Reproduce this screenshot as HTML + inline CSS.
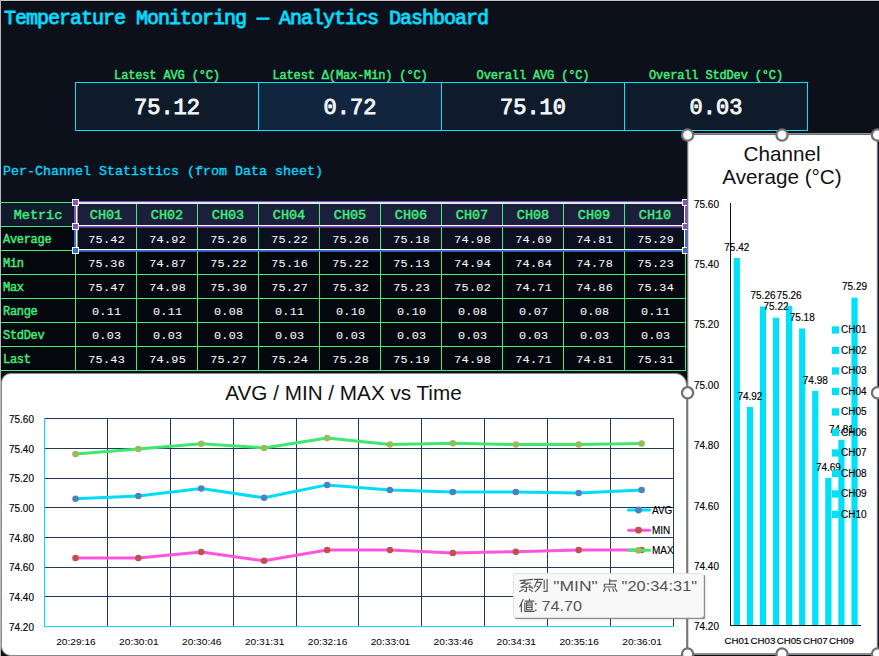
<!DOCTYPE html>
<html><head><meta charset="utf-8"><title>Temperature Monitoring Dashboard</title>
<style>
html,body{margin:0;padding:0;width:879px;height:656px;overflow:hidden;background:#0c101b;}
svg{display:block;}
</style></head><body>
<svg width="879" height="656" viewBox="0 0 879 656">
<defs><filter id="blur" x="-10%" y="-20%" width="120%" height="140%"><feGaussianBlur stdDeviation="1.5"/></filter></defs>
<rect x="0" y="0" width="879" height="656" fill="#0c101b"/>
<rect x="0" y="0" width="879" height="1" fill="#c4c4c4"/>
<rect x="0" y="1" width="879" height="1" fill="#03050b"/>
<rect x="0" y="0" width="1" height="656" fill="#b8b8b8"/>
<text x="4" y="24" font-family='"Liberation Mono", monospace' font-size="20" letter-spacing="-1" fill="#00dcff" stroke="#00dcff" stroke-width="0.85">Temperature Monitoring — Analytics Dashboard</text>
<rect x="75" y="82" width="183" height="48" fill="#0f1b2a"/>
<text x="167.0" y="79" text-anchor="middle" font-family='"Liberation Mono", monospace' font-size="12" letter-spacing="-0.15" fill="#40ec7c" stroke="#40ec7c" stroke-width="0.45">Latest AVG (°C)</text>
<text x="167.0" y="114" text-anchor="middle" font-family='"Liberation Mono", monospace' font-size="22" fill="#f4f6f8" stroke="#f4f6f8" stroke-width="0.9">75.12</text>
<rect x="258" y="82" width="183" height="48" fill="#11263e"/>
<text x="350.0" y="79" text-anchor="middle" font-family='"Liberation Mono", monospace' font-size="12" letter-spacing="-0.15" fill="#40ec7c" stroke="#40ec7c" stroke-width="0.45">Latest Δ(Max-Min) (°C)</text>
<text x="350.0" y="114" text-anchor="middle" font-family='"Liberation Mono", monospace' font-size="22" fill="#f4f6f8" stroke="#f4f6f8" stroke-width="0.9">0.72</text>
<rect x="441" y="82" width="183" height="48" fill="#0f1b2a"/>
<text x="533.0" y="79" text-anchor="middle" font-family='"Liberation Mono", monospace' font-size="12" letter-spacing="-0.15" fill="#40ec7c" stroke="#40ec7c" stroke-width="0.45">Overall AVG (°C)</text>
<text x="533.0" y="114" text-anchor="middle" font-family='"Liberation Mono", monospace' font-size="22" fill="#f4f6f8" stroke="#f4f6f8" stroke-width="0.9">75.10</text>
<rect x="624" y="82" width="183" height="48" fill="#0f1b2a"/>
<text x="716.0" y="79" text-anchor="middle" font-family='"Liberation Mono", monospace' font-size="12" letter-spacing="-0.15" fill="#40ec7c" stroke="#40ec7c" stroke-width="0.45">Overall StdDev (°C)</text>
<text x="716.0" y="114" text-anchor="middle" font-family='"Liberation Mono", monospace' font-size="22" fill="#f4f6f8" stroke="#f4f6f8" stroke-width="0.9">0.03</text>
<rect x="75.5" y="82.5" width="732" height="48" fill="none" stroke="#00e2ff" stroke-width="1"/>
<line x1="258.5" y1="82" x2="258.5" y2="131" stroke="#00e2ff" stroke-width="1"/>
<line x1="441.5" y1="82" x2="441.5" y2="131" stroke="#00e2ff" stroke-width="1"/>
<line x1="624.5" y1="82" x2="624.5" y2="131" stroke="#00e2ff" stroke-width="1"/>
<text x="3" y="175" font-family='"Liberation Mono", monospace' font-size="13.33" fill="#00dcff" stroke="#00dcff" stroke-width="0.3">Per-Channel Statistics (from Data sheet)</text>
<rect x="1" y="202" width="74" height="24" fill="#101a2c"/>
<rect x="75" y="202" width="610" height="24" fill="#1c1f3c"/>
<rect x="1" y="226" width="684" height="144" fill="#05070e"/>
<rect x="75" y="226" width="610" height="24" fill="#0d1021"/>
<line x1="1" y1="202.5" x2="686" y2="202.5" stroke="#40ec7c" stroke-width="1"/>
<line x1="1" y1="226.5" x2="686" y2="226.5" stroke="#40ec7c" stroke-width="1"/>
<line x1="1" y1="250.5" x2="686" y2="250.5" stroke="#40ec7c" stroke-width="1"/>
<line x1="1" y1="274.5" x2="686" y2="274.5" stroke="#40ec7c" stroke-width="1"/>
<line x1="1" y1="298.5" x2="686" y2="298.5" stroke="#40ec7c" stroke-width="1"/>
<line x1="1" y1="322.5" x2="686" y2="322.5" stroke="#40ec7c" stroke-width="1"/>
<line x1="1" y1="346.5" x2="686" y2="346.5" stroke="#40ec7c" stroke-width="1"/>
<line x1="1" y1="370.5" x2="686" y2="370.5" stroke="#40ec7c" stroke-width="1"/>
<line x1="75.5" y1="202" x2="75.5" y2="371" stroke="#40ec7c" stroke-width="1"/>
<line x1="136.5" y1="202" x2="136.5" y2="371" stroke="#40ec7c" stroke-width="1"/>
<line x1="197.5" y1="202" x2="197.5" y2="371" stroke="#40ec7c" stroke-width="1"/>
<line x1="258.5" y1="202" x2="258.5" y2="371" stroke="#40ec7c" stroke-width="1"/>
<line x1="319.5" y1="202" x2="319.5" y2="371" stroke="#40ec7c" stroke-width="1"/>
<line x1="380.5" y1="202" x2="380.5" y2="371" stroke="#40ec7c" stroke-width="1"/>
<line x1="441.5" y1="202" x2="441.5" y2="371" stroke="#40ec7c" stroke-width="1"/>
<line x1="502.5" y1="202" x2="502.5" y2="371" stroke="#40ec7c" stroke-width="1"/>
<line x1="563.5" y1="202" x2="563.5" y2="371" stroke="#40ec7c" stroke-width="1"/>
<line x1="624.5" y1="202" x2="624.5" y2="371" stroke="#40ec7c" stroke-width="1"/>
<line x1="685.5" y1="202" x2="685.5" y2="371" stroke="#40ec7c" stroke-width="1"/>
<text x="38" y="219" text-anchor="middle" font-family='"Liberation Mono", monospace' font-size="13.5" fill="#40ec7c" stroke="#40ec7c" stroke-width="0.45">Metric</text>
<text x="106" y="219" text-anchor="middle" font-family='"Liberation Mono", monospace' font-size="13.5" fill="#40ec7c" stroke="#40ec7c" stroke-width="0.45">CH01</text>
<text x="167" y="219" text-anchor="middle" font-family='"Liberation Mono", monospace' font-size="13.5" fill="#40ec7c" stroke="#40ec7c" stroke-width="0.45">CH02</text>
<text x="228" y="219" text-anchor="middle" font-family='"Liberation Mono", monospace' font-size="13.5" fill="#40ec7c" stroke="#40ec7c" stroke-width="0.45">CH03</text>
<text x="289" y="219" text-anchor="middle" font-family='"Liberation Mono", monospace' font-size="13.5" fill="#40ec7c" stroke="#40ec7c" stroke-width="0.45">CH04</text>
<text x="350" y="219" text-anchor="middle" font-family='"Liberation Mono", monospace' font-size="13.5" fill="#40ec7c" stroke="#40ec7c" stroke-width="0.45">CH05</text>
<text x="411" y="219" text-anchor="middle" font-family='"Liberation Mono", monospace' font-size="13.5" fill="#40ec7c" stroke="#40ec7c" stroke-width="0.45">CH06</text>
<text x="472" y="219" text-anchor="middle" font-family='"Liberation Mono", monospace' font-size="13.5" fill="#40ec7c" stroke="#40ec7c" stroke-width="0.45">CH07</text>
<text x="533" y="219" text-anchor="middle" font-family='"Liberation Mono", monospace' font-size="13.5" fill="#40ec7c" stroke="#40ec7c" stroke-width="0.45">CH08</text>
<text x="594" y="219" text-anchor="middle" font-family='"Liberation Mono", monospace' font-size="13.5" fill="#40ec7c" stroke="#40ec7c" stroke-width="0.45">CH09</text>
<text x="655" y="219" text-anchor="middle" font-family='"Liberation Mono", monospace' font-size="13.5" fill="#40ec7c" stroke="#40ec7c" stroke-width="0.45">CH10</text>
<text x="3" y="243" font-family='"Liberation Mono", monospace' font-size="12" letter-spacing="-0.3" fill="#40ec7c" stroke="#40ec7c" stroke-width="0.45">Average</text>
<text x="106.7" y="242.6" text-anchor="middle" font-family='"Liberation Mono", monospace' font-size="11.8" letter-spacing="0.3" fill="#f4f6f8" stroke="#f4f6f8" stroke-width="0.08">75.42</text>
<text x="167.7" y="242.6" text-anchor="middle" font-family='"Liberation Mono", monospace' font-size="11.8" letter-spacing="0.3" fill="#f4f6f8" stroke="#f4f6f8" stroke-width="0.08">74.92</text>
<text x="228.7" y="242.6" text-anchor="middle" font-family='"Liberation Mono", monospace' font-size="11.8" letter-spacing="0.3" fill="#f4f6f8" stroke="#f4f6f8" stroke-width="0.08">75.26</text>
<text x="289.7" y="242.6" text-anchor="middle" font-family='"Liberation Mono", monospace' font-size="11.8" letter-spacing="0.3" fill="#f4f6f8" stroke="#f4f6f8" stroke-width="0.08">75.22</text>
<text x="350.7" y="242.6" text-anchor="middle" font-family='"Liberation Mono", monospace' font-size="11.8" letter-spacing="0.3" fill="#f4f6f8" stroke="#f4f6f8" stroke-width="0.08">75.26</text>
<text x="411.7" y="242.6" text-anchor="middle" font-family='"Liberation Mono", monospace' font-size="11.8" letter-spacing="0.3" fill="#f4f6f8" stroke="#f4f6f8" stroke-width="0.08">75.18</text>
<text x="472.7" y="242.6" text-anchor="middle" font-family='"Liberation Mono", monospace' font-size="11.8" letter-spacing="0.3" fill="#f4f6f8" stroke="#f4f6f8" stroke-width="0.08">74.98</text>
<text x="533.7" y="242.6" text-anchor="middle" font-family='"Liberation Mono", monospace' font-size="11.8" letter-spacing="0.3" fill="#f4f6f8" stroke="#f4f6f8" stroke-width="0.08">74.69</text>
<text x="594.7" y="242.6" text-anchor="middle" font-family='"Liberation Mono", monospace' font-size="11.8" letter-spacing="0.3" fill="#f4f6f8" stroke="#f4f6f8" stroke-width="0.08">74.81</text>
<text x="655.7" y="242.6" text-anchor="middle" font-family='"Liberation Mono", monospace' font-size="11.8" letter-spacing="0.3" fill="#f4f6f8" stroke="#f4f6f8" stroke-width="0.08">75.29</text>
<text x="3" y="267" font-family='"Liberation Mono", monospace' font-size="12" letter-spacing="-0.3" fill="#40ec7c" stroke="#40ec7c" stroke-width="0.45">Min</text>
<text x="106.7" y="266.6" text-anchor="middle" font-family='"Liberation Mono", monospace' font-size="11.8" letter-spacing="0.3" fill="#f4f6f8" stroke="#f4f6f8" stroke-width="0.08">75.36</text>
<text x="167.7" y="266.6" text-anchor="middle" font-family='"Liberation Mono", monospace' font-size="11.8" letter-spacing="0.3" fill="#f4f6f8" stroke="#f4f6f8" stroke-width="0.08">74.87</text>
<text x="228.7" y="266.6" text-anchor="middle" font-family='"Liberation Mono", monospace' font-size="11.8" letter-spacing="0.3" fill="#f4f6f8" stroke="#f4f6f8" stroke-width="0.08">75.22</text>
<text x="289.7" y="266.6" text-anchor="middle" font-family='"Liberation Mono", monospace' font-size="11.8" letter-spacing="0.3" fill="#f4f6f8" stroke="#f4f6f8" stroke-width="0.08">75.16</text>
<text x="350.7" y="266.6" text-anchor="middle" font-family='"Liberation Mono", monospace' font-size="11.8" letter-spacing="0.3" fill="#f4f6f8" stroke="#f4f6f8" stroke-width="0.08">75.22</text>
<text x="411.7" y="266.6" text-anchor="middle" font-family='"Liberation Mono", monospace' font-size="11.8" letter-spacing="0.3" fill="#f4f6f8" stroke="#f4f6f8" stroke-width="0.08">75.13</text>
<text x="472.7" y="266.6" text-anchor="middle" font-family='"Liberation Mono", monospace' font-size="11.8" letter-spacing="0.3" fill="#f4f6f8" stroke="#f4f6f8" stroke-width="0.08">74.94</text>
<text x="533.7" y="266.6" text-anchor="middle" font-family='"Liberation Mono", monospace' font-size="11.8" letter-spacing="0.3" fill="#f4f6f8" stroke="#f4f6f8" stroke-width="0.08">74.64</text>
<text x="594.7" y="266.6" text-anchor="middle" font-family='"Liberation Mono", monospace' font-size="11.8" letter-spacing="0.3" fill="#f4f6f8" stroke="#f4f6f8" stroke-width="0.08">74.78</text>
<text x="655.7" y="266.6" text-anchor="middle" font-family='"Liberation Mono", monospace' font-size="11.8" letter-spacing="0.3" fill="#f4f6f8" stroke="#f4f6f8" stroke-width="0.08">75.23</text>
<text x="3" y="291" font-family='"Liberation Mono", monospace' font-size="12" letter-spacing="-0.3" fill="#40ec7c" stroke="#40ec7c" stroke-width="0.45">Max</text>
<text x="106.7" y="290.6" text-anchor="middle" font-family='"Liberation Mono", monospace' font-size="11.8" letter-spacing="0.3" fill="#f4f6f8" stroke="#f4f6f8" stroke-width="0.08">75.47</text>
<text x="167.7" y="290.6" text-anchor="middle" font-family='"Liberation Mono", monospace' font-size="11.8" letter-spacing="0.3" fill="#f4f6f8" stroke="#f4f6f8" stroke-width="0.08">74.98</text>
<text x="228.7" y="290.6" text-anchor="middle" font-family='"Liberation Mono", monospace' font-size="11.8" letter-spacing="0.3" fill="#f4f6f8" stroke="#f4f6f8" stroke-width="0.08">75.30</text>
<text x="289.7" y="290.6" text-anchor="middle" font-family='"Liberation Mono", monospace' font-size="11.8" letter-spacing="0.3" fill="#f4f6f8" stroke="#f4f6f8" stroke-width="0.08">75.27</text>
<text x="350.7" y="290.6" text-anchor="middle" font-family='"Liberation Mono", monospace' font-size="11.8" letter-spacing="0.3" fill="#f4f6f8" stroke="#f4f6f8" stroke-width="0.08">75.32</text>
<text x="411.7" y="290.6" text-anchor="middle" font-family='"Liberation Mono", monospace' font-size="11.8" letter-spacing="0.3" fill="#f4f6f8" stroke="#f4f6f8" stroke-width="0.08">75.23</text>
<text x="472.7" y="290.6" text-anchor="middle" font-family='"Liberation Mono", monospace' font-size="11.8" letter-spacing="0.3" fill="#f4f6f8" stroke="#f4f6f8" stroke-width="0.08">75.02</text>
<text x="533.7" y="290.6" text-anchor="middle" font-family='"Liberation Mono", monospace' font-size="11.8" letter-spacing="0.3" fill="#f4f6f8" stroke="#f4f6f8" stroke-width="0.08">74.71</text>
<text x="594.7" y="290.6" text-anchor="middle" font-family='"Liberation Mono", monospace' font-size="11.8" letter-spacing="0.3" fill="#f4f6f8" stroke="#f4f6f8" stroke-width="0.08">74.86</text>
<text x="655.7" y="290.6" text-anchor="middle" font-family='"Liberation Mono", monospace' font-size="11.8" letter-spacing="0.3" fill="#f4f6f8" stroke="#f4f6f8" stroke-width="0.08">75.34</text>
<text x="3" y="315" font-family='"Liberation Mono", monospace' font-size="12" letter-spacing="-0.3" fill="#40ec7c" stroke="#40ec7c" stroke-width="0.45">Range</text>
<text x="106.7" y="314.6" text-anchor="middle" font-family='"Liberation Mono", monospace' font-size="11.8" letter-spacing="0.3" fill="#f4f6f8" stroke="#f4f6f8" stroke-width="0.08">0.11</text>
<text x="167.7" y="314.6" text-anchor="middle" font-family='"Liberation Mono", monospace' font-size="11.8" letter-spacing="0.3" fill="#f4f6f8" stroke="#f4f6f8" stroke-width="0.08">0.11</text>
<text x="228.7" y="314.6" text-anchor="middle" font-family='"Liberation Mono", monospace' font-size="11.8" letter-spacing="0.3" fill="#f4f6f8" stroke="#f4f6f8" stroke-width="0.08">0.08</text>
<text x="289.7" y="314.6" text-anchor="middle" font-family='"Liberation Mono", monospace' font-size="11.8" letter-spacing="0.3" fill="#f4f6f8" stroke="#f4f6f8" stroke-width="0.08">0.11</text>
<text x="350.7" y="314.6" text-anchor="middle" font-family='"Liberation Mono", monospace' font-size="11.8" letter-spacing="0.3" fill="#f4f6f8" stroke="#f4f6f8" stroke-width="0.08">0.10</text>
<text x="411.7" y="314.6" text-anchor="middle" font-family='"Liberation Mono", monospace' font-size="11.8" letter-spacing="0.3" fill="#f4f6f8" stroke="#f4f6f8" stroke-width="0.08">0.10</text>
<text x="472.7" y="314.6" text-anchor="middle" font-family='"Liberation Mono", monospace' font-size="11.8" letter-spacing="0.3" fill="#f4f6f8" stroke="#f4f6f8" stroke-width="0.08">0.08</text>
<text x="533.7" y="314.6" text-anchor="middle" font-family='"Liberation Mono", monospace' font-size="11.8" letter-spacing="0.3" fill="#f4f6f8" stroke="#f4f6f8" stroke-width="0.08">0.07</text>
<text x="594.7" y="314.6" text-anchor="middle" font-family='"Liberation Mono", monospace' font-size="11.8" letter-spacing="0.3" fill="#f4f6f8" stroke="#f4f6f8" stroke-width="0.08">0.08</text>
<text x="655.7" y="314.6" text-anchor="middle" font-family='"Liberation Mono", monospace' font-size="11.8" letter-spacing="0.3" fill="#f4f6f8" stroke="#f4f6f8" stroke-width="0.08">0.11</text>
<text x="3" y="339" font-family='"Liberation Mono", monospace' font-size="12" letter-spacing="-0.3" fill="#40ec7c" stroke="#40ec7c" stroke-width="0.45">StdDev</text>
<text x="106.7" y="338.6" text-anchor="middle" font-family='"Liberation Mono", monospace' font-size="11.8" letter-spacing="0.3" fill="#f4f6f8" stroke="#f4f6f8" stroke-width="0.08">0.03</text>
<text x="167.7" y="338.6" text-anchor="middle" font-family='"Liberation Mono", monospace' font-size="11.8" letter-spacing="0.3" fill="#f4f6f8" stroke="#f4f6f8" stroke-width="0.08">0.03</text>
<text x="228.7" y="338.6" text-anchor="middle" font-family='"Liberation Mono", monospace' font-size="11.8" letter-spacing="0.3" fill="#f4f6f8" stroke="#f4f6f8" stroke-width="0.08">0.03</text>
<text x="289.7" y="338.6" text-anchor="middle" font-family='"Liberation Mono", monospace' font-size="11.8" letter-spacing="0.3" fill="#f4f6f8" stroke="#f4f6f8" stroke-width="0.08">0.03</text>
<text x="350.7" y="338.6" text-anchor="middle" font-family='"Liberation Mono", monospace' font-size="11.8" letter-spacing="0.3" fill="#f4f6f8" stroke="#f4f6f8" stroke-width="0.08">0.03</text>
<text x="411.7" y="338.6" text-anchor="middle" font-family='"Liberation Mono", monospace' font-size="11.8" letter-spacing="0.3" fill="#f4f6f8" stroke="#f4f6f8" stroke-width="0.08">0.03</text>
<text x="472.7" y="338.6" text-anchor="middle" font-family='"Liberation Mono", monospace' font-size="11.8" letter-spacing="0.3" fill="#f4f6f8" stroke="#f4f6f8" stroke-width="0.08">0.03</text>
<text x="533.7" y="338.6" text-anchor="middle" font-family='"Liberation Mono", monospace' font-size="11.8" letter-spacing="0.3" fill="#f4f6f8" stroke="#f4f6f8" stroke-width="0.08">0.03</text>
<text x="594.7" y="338.6" text-anchor="middle" font-family='"Liberation Mono", monospace' font-size="11.8" letter-spacing="0.3" fill="#f4f6f8" stroke="#f4f6f8" stroke-width="0.08">0.03</text>
<text x="655.7" y="338.6" text-anchor="middle" font-family='"Liberation Mono", monospace' font-size="11.8" letter-spacing="0.3" fill="#f4f6f8" stroke="#f4f6f8" stroke-width="0.08">0.03</text>
<text x="3" y="363" font-family='"Liberation Mono", monospace' font-size="12" letter-spacing="-0.3" fill="#40ec7c" stroke="#40ec7c" stroke-width="0.45">Last</text>
<text x="106.7" y="362.6" text-anchor="middle" font-family='"Liberation Mono", monospace' font-size="11.8" letter-spacing="0.3" fill="#f4f6f8" stroke="#f4f6f8" stroke-width="0.08">75.43</text>
<text x="167.7" y="362.6" text-anchor="middle" font-family='"Liberation Mono", monospace' font-size="11.8" letter-spacing="0.3" fill="#f4f6f8" stroke="#f4f6f8" stroke-width="0.08">74.95</text>
<text x="228.7" y="362.6" text-anchor="middle" font-family='"Liberation Mono", monospace' font-size="11.8" letter-spacing="0.3" fill="#f4f6f8" stroke="#f4f6f8" stroke-width="0.08">75.27</text>
<text x="289.7" y="362.6" text-anchor="middle" font-family='"Liberation Mono", monospace' font-size="11.8" letter-spacing="0.3" fill="#f4f6f8" stroke="#f4f6f8" stroke-width="0.08">75.24</text>
<text x="350.7" y="362.6" text-anchor="middle" font-family='"Liberation Mono", monospace' font-size="11.8" letter-spacing="0.3" fill="#f4f6f8" stroke="#f4f6f8" stroke-width="0.08">75.28</text>
<text x="411.7" y="362.6" text-anchor="middle" font-family='"Liberation Mono", monospace' font-size="11.8" letter-spacing="0.3" fill="#f4f6f8" stroke="#f4f6f8" stroke-width="0.08">75.19</text>
<text x="472.7" y="362.6" text-anchor="middle" font-family='"Liberation Mono", monospace' font-size="11.8" letter-spacing="0.3" fill="#f4f6f8" stroke="#f4f6f8" stroke-width="0.08">74.98</text>
<text x="533.7" y="362.6" text-anchor="middle" font-family='"Liberation Mono", monospace' font-size="11.8" letter-spacing="0.3" fill="#f4f6f8" stroke="#f4f6f8" stroke-width="0.08">74.71</text>
<text x="594.7" y="362.6" text-anchor="middle" font-family='"Liberation Mono", monospace' font-size="11.8" letter-spacing="0.3" fill="#f4f6f8" stroke="#f4f6f8" stroke-width="0.08">74.81</text>
<text x="655.7" y="362.6" text-anchor="middle" font-family='"Liberation Mono", monospace' font-size="11.8" letter-spacing="0.3" fill="#f4f6f8" stroke="#f4f6f8" stroke-width="0.08">75.31</text>
<rect x="74" y="201" width="612" height="1.3" fill="#8652c0"/>
<rect x="76" y="202.3" width="608" height="1.6" fill="#ffffff"/>
<rect x="74" y="201" width="2" height="26" fill="#8652c0"/>
<rect x="76" y="203" width="1.5" height="22" fill="#ffffff"/>
<rect x="76" y="225" width="608" height="1" fill="#ffffff"/>
<rect x="74" y="226" width="612" height="1.6" fill="#8652c0"/>
<rect x="74" y="227" width="2" height="24" fill="#3a6fd0"/>
<rect x="76" y="227" width="1.5" height="22" fill="#ffffff"/>
<rect x="76" y="249" width="608" height="1" fill="#ffffff"/>
<rect x="74" y="250" width="612" height="1.8" fill="#3a6fd0"/>
<rect x="684" y="203" width="1" height="22" fill="#ffffff"/>
<rect x="685" y="201" width="2" height="26" fill="#8652c0"/>
<rect x="684" y="227" width="1" height="22" fill="#ffffff"/>
<rect x="685" y="227" width="2" height="24" fill="#3a6fd0"/>
<rect x="72.0" y="199.0" width="7" height="7" fill="#ffffff"/>
<rect x="73.0" y="200.0" width="5" height="5" fill="#8652c0"/>
<rect x="72.0" y="223.0" width="7" height="7" fill="#ffffff"/>
<rect x="73.0" y="224.0" width="5" height="5" fill="#8652c0"/>
<rect x="72.0" y="247.0" width="7" height="7" fill="#ffffff"/>
<rect x="73.0" y="248.0" width="5" height="5" fill="#3a6fd0"/>
<rect x="682.0" y="199.0" width="7" height="7" fill="#ffffff"/>
<rect x="683.0" y="200.0" width="5" height="5" fill="#8652c0"/>
<rect x="682.0" y="223.0" width="7" height="7" fill="#ffffff"/>
<rect x="683.0" y="224.0" width="5" height="5" fill="#8652c0"/>
<rect x="682.0" y="247.0" width="7" height="7" fill="#ffffff"/>
<rect x="683.0" y="248.0" width="5" height="5" fill="#3a6fd0"/>
<path d="M1.5,382.5 A9,9 0 0 1 10.5,373.5 H675.5 A11,11 0 0 1 686.5,384.5 V655.5 H10.5 A9,9 0 0 1 1.5,646.5 Z" fill="#ffffff" stroke="#8a8a8a" stroke-width="1"/>
<text x="343.5" y="399.5" text-anchor="middle" font-family='"Liberation Sans", sans-serif' font-size="20.7" fill="#111">AVG / MIN / MAX vs Time</text>
<line x1="44" y1="418.5" x2="674" y2="418.5" stroke="#1f3a5c" stroke-width="1"/>
<line x1="44" y1="448.5" x2="674" y2="448.5" stroke="#1f3a5c" stroke-width="1"/>
<line x1="44" y1="478.5" x2="674" y2="478.5" stroke="#1f3a5c" stroke-width="1"/>
<line x1="44" y1="507.5" x2="674" y2="507.5" stroke="#1f3a5c" stroke-width="1"/>
<line x1="44" y1="537.5" x2="674" y2="537.5" stroke="#1f3a5c" stroke-width="1"/>
<line x1="44" y1="567.5" x2="674" y2="567.5" stroke="#1f3a5c" stroke-width="1"/>
<line x1="44" y1="596.5" x2="674" y2="596.5" stroke="#1f3a5c" stroke-width="1"/>
<line x1="107.5" y1="418.5" x2="107.5" y2="626" stroke="#1f3a5c" stroke-width="1"/>
<line x1="170.5" y1="418.5" x2="170.5" y2="626" stroke="#1f3a5c" stroke-width="1"/>
<line x1="233.5" y1="418.5" x2="233.5" y2="626" stroke="#1f3a5c" stroke-width="1"/>
<line x1="296.5" y1="418.5" x2="296.5" y2="626" stroke="#1f3a5c" stroke-width="1"/>
<line x1="358.5" y1="418.5" x2="358.5" y2="626" stroke="#1f3a5c" stroke-width="1"/>
<line x1="421.5" y1="418.5" x2="421.5" y2="626" stroke="#1f3a5c" stroke-width="1"/>
<line x1="484.5" y1="418.5" x2="484.5" y2="626" stroke="#1f3a5c" stroke-width="1"/>
<line x1="547.5" y1="418.5" x2="547.5" y2="626" stroke="#1f3a5c" stroke-width="1"/>
<line x1="610.5" y1="418.5" x2="610.5" y2="626" stroke="#1f3a5c" stroke-width="1"/>
<line x1="673.5" y1="418.5" x2="673.5" y2="626" stroke="#1f3a5c" stroke-width="1"/>
<line x1="44.5" y1="418" x2="44.5" y2="627" stroke="#00d8ff" stroke-width="1"/>
<line x1="44" y1="626.5" x2="674" y2="626.5" stroke="#00d8ff" stroke-width="1"/>
<text x="34" y="422.8" text-anchor="end" font-family='"Liberation Sans", sans-serif' font-size="10" fill="#000" stroke="#000" stroke-width="0.15">75.60</text>
<text x="34" y="452.5" text-anchor="end" font-family='"Liberation Sans", sans-serif' font-size="10" fill="#000" stroke="#000" stroke-width="0.15">75.40</text>
<text x="34" y="482.2" text-anchor="end" font-family='"Liberation Sans", sans-serif' font-size="10" fill="#000" stroke="#000" stroke-width="0.15">75.20</text>
<text x="34" y="511.9" text-anchor="end" font-family='"Liberation Sans", sans-serif' font-size="10" fill="#000" stroke="#000" stroke-width="0.15">75.00</text>
<text x="34" y="541.6" text-anchor="end" font-family='"Liberation Sans", sans-serif' font-size="10" fill="#000" stroke="#000" stroke-width="0.15">74.80</text>
<text x="34" y="571.3" text-anchor="end" font-family='"Liberation Sans", sans-serif' font-size="10" fill="#000" stroke="#000" stroke-width="0.15">74.60</text>
<text x="34" y="601.0" text-anchor="end" font-family='"Liberation Sans", sans-serif' font-size="10" fill="#000" stroke="#000" stroke-width="0.15">74.40</text>
<text x="34" y="630.7" text-anchor="end" font-family='"Liberation Sans", sans-serif' font-size="10" fill="#000" stroke="#000" stroke-width="0.15">74.20</text>
<text x="75.95" y="645" text-anchor="middle" font-family='"Liberation Sans", sans-serif' font-size="9.7" fill="#000" textLength="39.5" lengthAdjust="spacingAndGlyphs">20:29:16</text>
<text x="138.85" y="645" text-anchor="middle" font-family='"Liberation Sans", sans-serif' font-size="9.7" fill="#000" textLength="39.5" lengthAdjust="spacingAndGlyphs">20:30:01</text>
<text x="201.75" y="645" text-anchor="middle" font-family='"Liberation Sans", sans-serif' font-size="9.7" fill="#000" textLength="39.5" lengthAdjust="spacingAndGlyphs">20:30:46</text>
<text x="264.65" y="645" text-anchor="middle" font-family='"Liberation Sans", sans-serif' font-size="9.7" fill="#000" textLength="39.5" lengthAdjust="spacingAndGlyphs">20:31:31</text>
<text x="327.55" y="645" text-anchor="middle" font-family='"Liberation Sans", sans-serif' font-size="9.7" fill="#000" textLength="39.5" lengthAdjust="spacingAndGlyphs">20:32:16</text>
<text x="390.45" y="645" text-anchor="middle" font-family='"Liberation Sans", sans-serif' font-size="9.7" fill="#000" textLength="39.5" lengthAdjust="spacingAndGlyphs">20:33:01</text>
<text x="453.34999999999997" y="645" text-anchor="middle" font-family='"Liberation Sans", sans-serif' font-size="9.7" fill="#000" textLength="39.5" lengthAdjust="spacingAndGlyphs">20:33:46</text>
<text x="516.25" y="645" text-anchor="middle" font-family='"Liberation Sans", sans-serif' font-size="9.7" fill="#000" textLength="39.5" lengthAdjust="spacingAndGlyphs">20:34:31</text>
<text x="579.1500000000001" y="645" text-anchor="middle" font-family='"Liberation Sans", sans-serif' font-size="9.7" fill="#000" textLength="39.5" lengthAdjust="spacingAndGlyphs">20:35:16</text>
<text x="642.0500000000001" y="645" text-anchor="middle" font-family='"Liberation Sans", sans-serif' font-size="9.7" fill="#000" textLength="39.5" lengthAdjust="spacingAndGlyphs">20:36:01</text>
<polyline points="75.5,454.0 138.3,448.9 201.2,443.7 264.1,447.9 327.1,438.0 389.9,444.6 452.8,443.2 515.8,444.6 578.7,444.6 641.6,443.6" fill="none" stroke="#3ee86e" stroke-width="3" stroke-linejoin="round" stroke-linecap="round"/>
<circle cx="75.5" cy="454.0" r="3.25" fill="#9bbb59"/>
<circle cx="138.3" cy="448.9" r="3.25" fill="#9bbb59"/>
<circle cx="201.2" cy="443.7" r="3.25" fill="#9bbb59"/>
<circle cx="264.1" cy="447.9" r="3.25" fill="#9bbb59"/>
<circle cx="327.1" cy="438.0" r="3.25" fill="#9bbb59"/>
<circle cx="389.9" cy="444.6" r="3.25" fill="#9bbb59"/>
<circle cx="452.8" cy="443.2" r="3.25" fill="#9bbb59"/>
<circle cx="515.8" cy="444.6" r="3.25" fill="#9bbb59"/>
<circle cx="578.7" cy="444.6" r="3.25" fill="#9bbb59"/>
<circle cx="641.6" cy="443.6" r="3.25" fill="#9bbb59"/>
<polyline points="75.5,498.7 138.3,496.0 201.2,488.6 264.1,497.8 327.1,484.9 389.9,489.9 452.8,492.0 515.8,492.0 578.7,492.9 641.6,489.9" fill="none" stroke="#00dcf8" stroke-width="3" stroke-linejoin="round" stroke-linecap="round"/>
<circle cx="75.5" cy="498.7" r="3.25" fill="#4f81bd"/>
<circle cx="138.3" cy="496.0" r="3.25" fill="#4f81bd"/>
<circle cx="201.2" cy="488.6" r="3.25" fill="#4f81bd"/>
<circle cx="264.1" cy="497.8" r="3.25" fill="#4f81bd"/>
<circle cx="327.1" cy="484.9" r="3.25" fill="#4f81bd"/>
<circle cx="389.9" cy="489.9" r="3.25" fill="#4f81bd"/>
<circle cx="452.8" cy="492.0" r="3.25" fill="#4f81bd"/>
<circle cx="515.8" cy="492.0" r="3.25" fill="#4f81bd"/>
<circle cx="578.7" cy="492.9" r="3.25" fill="#4f81bd"/>
<circle cx="641.6" cy="489.9" r="3.25" fill="#4f81bd"/>
<polyline points="75.5,558.1 138.3,558.1 201.2,552.1 264.1,560.8 327.1,549.9 389.9,549.9 452.8,552.9 515.8,551.7 578.7,549.9 641.6,549.9" fill="none" stroke="#ff55dd" stroke-width="3" stroke-linejoin="round" stroke-linecap="round"/>
<circle cx="75.5" cy="558.1" r="3.25" fill="#c0504d"/>
<circle cx="138.3" cy="558.1" r="3.25" fill="#c0504d"/>
<circle cx="201.2" cy="552.1" r="3.25" fill="#c0504d"/>
<circle cx="264.1" cy="560.8" r="3.25" fill="#c0504d"/>
<circle cx="327.1" cy="549.9" r="3.25" fill="#c0504d"/>
<circle cx="389.9" cy="549.9" r="3.25" fill="#c0504d"/>
<circle cx="452.8" cy="552.9" r="3.25" fill="#c0504d"/>
<circle cx="515.8" cy="551.7" r="3.25" fill="#c0504d"/>
<circle cx="578.7" cy="549.9" r="3.25" fill="#c0504d"/>
<circle cx="641.6" cy="549.9" r="3.25" fill="#c0504d"/>
<line x1="628.5" y1="510.0" x2="649.5" y2="510.0" stroke="#00dcf8" stroke-width="3" stroke-linecap="round"/>
<circle cx="638.5" cy="510.0" r="3.4" fill="#4f81bd"/>
<text x="652" y="513.6" font-family='"Liberation Sans", sans-serif' font-size="10" fill="#000" stroke="#000" stroke-width="0.15">AVG</text>
<line x1="628.5" y1="530.15" x2="649.5" y2="530.15" stroke="#ff55dd" stroke-width="3" stroke-linecap="round"/>
<circle cx="638.5" cy="530.15" r="3.4" fill="#c0504d"/>
<text x="652" y="533.75" font-family='"Liberation Sans", sans-serif' font-size="10" fill="#000" stroke="#000" stroke-width="0.15">MIN</text>
<line x1="628.5" y1="550.3" x2="649.5" y2="550.3" stroke="#3ee86e" stroke-width="3" stroke-linecap="round"/>
<circle cx="638.5" cy="550.3" r="3.4" fill="#9bbb59"/>
<text x="652" y="553.9" font-family='"Liberation Sans", sans-serif' font-size="10" fill="#000" stroke="#000" stroke-width="0.15">MAX</text>
<rect x="687" y="133.3" width="191" height="521.5" fill="#ffffff"/>
<rect x="687" y="133.5" width="191" height="1.5" fill="#6e6e6e"/>
<rect x="687" y="133.3" width="1.3" height="521.5" fill="#777"/>
<rect x="876.8" y="133.3" width="1.5" height="521.5" fill="#777"/>
<rect x="687" y="653.2" width="191" height="1.6" fill="#777"/>
<rect x="878.3" y="133" width="1" height="523" fill="#0c101b"/>
<text x="782" y="160.7" text-anchor="middle" font-family='"Liberation Sans", sans-serif' font-size="20.7" fill="#111">Channel</text>
<text x="782" y="184.3" text-anchor="middle" font-family='"Liberation Sans", sans-serif' font-size="20.7" fill="#111">Average (°C)</text>
<text x="719" y="207.7" text-anchor="end" font-family='"Liberation Sans", sans-serif' font-size="10" fill="#000" stroke="#000" stroke-width="0.15">75.60</text>
<text x="719" y="268.1" text-anchor="end" font-family='"Liberation Sans", sans-serif' font-size="10" fill="#000" stroke="#000" stroke-width="0.15">75.40</text>
<text x="719" y="328.4" text-anchor="end" font-family='"Liberation Sans", sans-serif' font-size="10" fill="#000" stroke="#000" stroke-width="0.15">75.20</text>
<text x="719" y="388.8" text-anchor="end" font-family='"Liberation Sans", sans-serif' font-size="10" fill="#000" stroke="#000" stroke-width="0.15">75.00</text>
<text x="719" y="449.1" text-anchor="end" font-family='"Liberation Sans", sans-serif' font-size="10" fill="#000" stroke="#000" stroke-width="0.15">74.80</text>
<text x="719" y="509.5" text-anchor="end" font-family='"Liberation Sans", sans-serif' font-size="10" fill="#000" stroke="#000" stroke-width="0.15">74.60</text>
<text x="719" y="569.9" text-anchor="end" font-family='"Liberation Sans", sans-serif' font-size="10" fill="#000" stroke="#000" stroke-width="0.15">74.40</text>
<text x="719" y="630.2" text-anchor="end" font-family='"Liberation Sans", sans-serif' font-size="10" fill="#000" stroke="#000" stroke-width="0.15">74.20</text>
<rect x="733.70" y="258.0" width="6.2" height="367.0" fill="#00e0f8"/>
<rect x="746.78" y="406.9" width="6.2" height="218.1" fill="#00e0f8"/>
<rect x="759.86" y="306.5" width="6.2" height="318.5" fill="#00e0f8"/>
<rect x="772.94" y="317.7" width="6.2" height="307.3" fill="#00e0f8"/>
<rect x="786.02" y="306.0" width="6.2" height="319.0" fill="#00e0f8"/>
<rect x="799.10" y="328.5" width="6.2" height="296.5" fill="#00e0f8"/>
<rect x="812.18" y="390.9" width="6.2" height="234.1" fill="#00e0f8"/>
<rect x="825.26" y="478.0" width="6.2" height="147.0" fill="#00e0f8"/>
<rect x="838.34" y="439.8" width="6.2" height="185.2" fill="#00e0f8"/>
<rect x="851.42" y="297.7" width="6.2" height="327.3" fill="#00e0f8"/>
<line x1="730.5" y1="203" x2="730.5" y2="626" stroke="#111" stroke-width="1"/>
<line x1="730" y1="625.5" x2="861" y2="625.5" stroke="#111" stroke-width="1"/>
<text x="736.8" y="250.7" text-anchor="middle" font-family='"Liberation Sans", sans-serif' font-size="10" fill="#000" stroke="#000" stroke-width="0.15">75.42</text>
<text x="749.9" y="399.6" text-anchor="middle" font-family='"Liberation Sans", sans-serif' font-size="10" fill="#000" stroke="#000" stroke-width="0.15">74.92</text>
<text x="763.0" y="299.2" text-anchor="middle" font-family='"Liberation Sans", sans-serif' font-size="10" fill="#000" stroke="#000" stroke-width="0.15">75.26</text>
<text x="776.0" y="310.4" text-anchor="middle" font-family='"Liberation Sans", sans-serif' font-size="10" fill="#000" stroke="#000" stroke-width="0.15">75.22</text>
<text x="789.1" y="298.7" text-anchor="middle" font-family='"Liberation Sans", sans-serif' font-size="10" fill="#000" stroke="#000" stroke-width="0.15">75.26</text>
<text x="802.2" y="321.2" text-anchor="middle" font-family='"Liberation Sans", sans-serif' font-size="10" fill="#000" stroke="#000" stroke-width="0.15">75.18</text>
<text x="815.3" y="383.6" text-anchor="middle" font-family='"Liberation Sans", sans-serif' font-size="10" fill="#000" stroke="#000" stroke-width="0.15">74.98</text>
<text x="828.4" y="470.7" text-anchor="middle" font-family='"Liberation Sans", sans-serif' font-size="10" fill="#000" stroke="#000" stroke-width="0.15">74.69</text>
<text x="841.4" y="432.5" text-anchor="middle" font-family='"Liberation Sans", sans-serif' font-size="10" fill="#000" stroke="#000" stroke-width="0.15">74.81</text>
<text x="854.5" y="290.4" text-anchor="middle" font-family='"Liberation Sans", sans-serif' font-size="10" fill="#000" stroke="#000" stroke-width="0.15">75.29</text>
<text x="736.8" y="643.7" text-anchor="middle" font-family='"Liberation Sans", sans-serif' font-size="9.7" fill="#000" stroke="#000" stroke-width="0.15">CH01</text>
<text x="763.0" y="643.7" text-anchor="middle" font-family='"Liberation Sans", sans-serif' font-size="9.7" fill="#000" stroke="#000" stroke-width="0.15">CH03</text>
<text x="789.1" y="643.7" text-anchor="middle" font-family='"Liberation Sans", sans-serif' font-size="9.7" fill="#000" stroke="#000" stroke-width="0.15">CH05</text>
<text x="815.3" y="643.7" text-anchor="middle" font-family='"Liberation Sans", sans-serif' font-size="9.7" fill="#000" stroke="#000" stroke-width="0.15">CH07</text>
<text x="841.4" y="643.7" text-anchor="middle" font-family='"Liberation Sans", sans-serif' font-size="9.7" fill="#000" stroke="#000" stroke-width="0.15">CH09</text>
<rect x="831.9" y="326.3" width="7.3" height="7.3" fill="#00e0f8"/>
<rect x="831.9" y="346.8" width="7.3" height="7.3" fill="#00e0f8"/>
<rect x="831.9" y="367.3" width="7.3" height="7.3" fill="#00e0f8"/>
<rect x="831.9" y="387.8" width="7.3" height="7.3" fill="#00e0f8"/>
<rect x="831.9" y="408.3" width="7.3" height="7.3" fill="#00e0f8"/>
<rect x="831.9" y="428.8" width="7.3" height="7.3" fill="#00e0f8"/>
<rect x="831.9" y="449.3" width="7.3" height="7.3" fill="#00e0f8"/>
<rect x="831.9" y="469.8" width="7.3" height="7.3" fill="#00e0f8"/>
<rect x="831.9" y="490.3" width="7.3" height="7.3" fill="#00e0f8"/>
<rect x="831.9" y="510.8" width="7.3" height="7.3" fill="#00e0f8"/>
<text x="841" y="333.4" font-family='"Liberation Sans", sans-serif' font-size="10" fill="#000" stroke="#000" stroke-width="0.15">CH01</text>
<text x="841" y="353.9" font-family='"Liberation Sans", sans-serif' font-size="10" fill="#000" stroke="#000" stroke-width="0.15">CH02</text>
<text x="841" y="374.4" font-family='"Liberation Sans", sans-serif' font-size="10" fill="#000" stroke="#000" stroke-width="0.15">CH03</text>
<text x="841" y="394.9" font-family='"Liberation Sans", sans-serif' font-size="10" fill="#000" stroke="#000" stroke-width="0.15">CH04</text>
<text x="841" y="415.4" font-family='"Liberation Sans", sans-serif' font-size="10" fill="#000" stroke="#000" stroke-width="0.15">CH05</text>
<text x="841" y="435.9" font-family='"Liberation Sans", sans-serif' font-size="10" fill="#000" stroke="#000" stroke-width="0.15">CH06</text>
<text x="841" y="456.4" font-family='"Liberation Sans", sans-serif' font-size="10" fill="#000" stroke="#000" stroke-width="0.15">CH07</text>
<text x="841" y="476.9" font-family='"Liberation Sans", sans-serif' font-size="10" fill="#000" stroke="#000" stroke-width="0.15">CH08</text>
<text x="841" y="497.4" font-family='"Liberation Sans", sans-serif' font-size="10" fill="#000" stroke="#000" stroke-width="0.15">CH09</text>
<text x="841" y="517.9" font-family='"Liberation Sans", sans-serif' font-size="10" fill="#000" stroke="#000" stroke-width="0.15">CH10</text>
<circle cx="687.6" cy="135" r="5.6" fill="#ffffff" stroke="#727272" stroke-width="2.3"/>
<circle cx="782" cy="135" r="5.6" fill="#ffffff" stroke="#727272" stroke-width="2.3"/>
<circle cx="877.5" cy="135" r="5.6" fill="#ffffff" stroke="#727272" stroke-width="2.3"/>
<circle cx="687.6" cy="392.8" r="5.6" fill="#ffffff" stroke="#727272" stroke-width="2.3"/>
<circle cx="877.5" cy="392.8" r="5.6" fill="#ffffff" stroke="#727272" stroke-width="2.3"/>
<circle cx="687.6" cy="654" r="5.6" fill="#ffffff" stroke="#727272" stroke-width="2.3"/>
<circle cx="782" cy="654" r="5.6" fill="#ffffff" stroke="#727272" stroke-width="2.3"/>
<circle cx="877.5" cy="654" r="5.6" fill="#ffffff" stroke="#727272" stroke-width="2.3"/>
<rect x="516" y="576" width="190" height="43.5" rx="1" fill="#000" opacity="0.12" filter="url(#blur)"/>
<rect x="515" y="575" width="190" height="44" rx="1" fill="#8a8a8a"/>
<rect x="513.5" y="573.5" width="190" height="44" rx="2.5" fill="#f8f8f8" stroke="#e2e2e2" stroke-width="1"/>
<text x="553.3" y="591" font-family='"Liberation Sans", sans-serif' font-size='15.5' fill='#555' textLength="44.5" lengthAdjust="spacingAndGlyphs">"MIN"</text>
<text x="621.6" y="591" font-family='"Liberation Sans", sans-serif' font-size='15.5' fill='#555' textLength="75.5" lengthAdjust="spacingAndGlyphs">"20:34:31"</text>
<text x="533.4" y="611" font-family='"Liberation Sans", sans-serif' font-size='15.5' fill='#555'>:</text>
<text x="541.5" y="611" font-family='"Liberation Sans", sans-serif' font-size='15.5' fill='#555' textLength="40.5" lengthAdjust="spacingAndGlyphs">74.70</text>
<path d="M520,580.6 L532.6,579.4 M525.2,581.2 L521,583.4 L530.8,583 M527.6,584 L521,587.2 L532,587.2 M529.2,585.3 L532.6,588.2 M526.4,587.4 V591.6 L524.6,591.2 M523.3,589.4 L519.6,591.6 M529.4,589.2 L532.6,591.6 M534.4,579.4 H542.7 M537.6,580.2 L534.4,587.2 M537.2,582.4 H541.5 Q540,588 535.2,591.6 M536.9,586.3 L538.8,587.2 M544.2,580.2 V588.7 M547.1,579.2 V591.4 H543.8 M609.7,579.3 V584.4 M609.7,580.8 H616.6 M604.3,584.2 H615.3 V587 H604.3 Z M605.1,588.6 L603.5,591.4 M608.9,588.8 L609.7,591.4 M612.8,588.8 L613.8,591.4 M615.3,588.8 L616.9,591.4 M523.1,599.4 L519.7,606.7 M521.4,602.8 V611.8 M525.2,601.1 H533.8 M529.5,599 V601.1 M526.5,602.8 H532.1 V609.7 H526.5 Z M526.5,605.1 H532.1 M526.5,607.4 H532.1 M524.8,602.8 V611.4 M524.8,611.4 H534.2" fill="none" stroke="#555" stroke-width="1.15" stroke-linecap="round" stroke-linejoin="round"/>
</svg>
</body></html>
